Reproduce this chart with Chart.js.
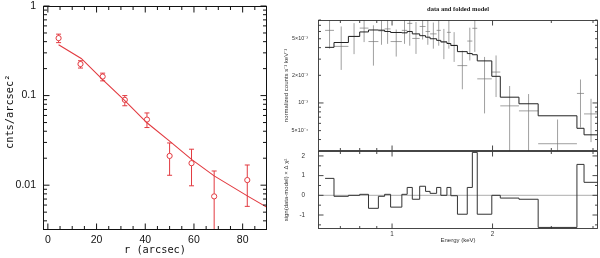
<!DOCTYPE html>
<html><head><meta charset="utf-8">
<script src="https://cdn.jsdelivr.net/npm/chart.js@4"></script>
<style>
html,body{margin:0;padding:0;background:#fff;width:600px;height:258px;overflow:hidden}
canvas{position:absolute}
#cL{left:0;top:0;width:300px;height:258px}
#cT{left:278px;top:0;width:322px;height:160px}
#cB{left:278px;top:145px;width:322px;height:113px}
</style></head><body>
<canvas id="cL" width="300" height="258"></canvas>
<canvas id="cT" width="322" height="160"></canvas>
<canvas id="cB" width="322" height="113"></canvas>
<script>
// ---------- Left panel: surface brightness profile ----------
const radius        = [4.4, 13.4, 22.5, 31.6, 40.7, 50.0, 59.0, 68.3, 81.9];
const brightness    = [0.438, 0.225, 0.163, 0.0896, 0.054, 0.0212, 0.0176, 0.0075, 0.0114];
const brightnessHi  = [0.485, 0.245, 0.178, 0.100, 0.064, 0.0296, 0.0252, 0.0144, 0.0168];
const brightnessLo  = [0.390, 0.203, 0.146, 0.077, 0.044, 0.0129, 0.00984, 0.001, 0.0058];
const modelRadius     = [4.4, 13.7, 22.5, 31.6, 40.7, 50.0, 59.0, 68.3, 81.9, 90];
const modelBrightness = [0.369, 0.260, 0.151, 0.088, 0.0497, 0.031, 0.0194, 0.0127, 0.0076, 0.00565];
const radiusTicks     = [0, 20, 40, 60, 80];
const radiusMinor     = [5,10,15,25,30,35,45,50,55,65,70,75,85];
const brightTicks     = [0.01, 0.1, 1];
const brightTickLabels= ['0.01', '0.1', '1'];
const brightMinor     = [0.004,0.005,0.006,0.007,0.008,0.009,0.02,0.03,0.04,0.05,0.06,0.07,0.08,0.09,0.2,0.3,0.4,0.5,0.6,0.7,0.8,0.9];

// ---------- Right panel: spectrum, data and folded model ----------
const energyEdges = [0.63,0.67,0.74,0.80,0.85,0.91,0.95,0.99,1.07,1.11,1.15,1.21,1.26,1.30,1.36,1.40,1.46,1.50,1.57,1.68,1.74,1.80,1.99,2.11,2.40,2.74,3.58,3.76,4.14];
const foldedModel = [4.03e-3,4.55e-3,5.3e-3,5.93e-3,6.23e-3,6.2e-3,6.0e-3,5.85e-3,5.8e-3,6.0e-3,5.65e-3,5.4e-3,5.2e-3,5.0e-3,4.8e-3,4.62e-3,4.44e-3,4.22e-3,3.62e-3,3.45e-3,3.35e-3,2.87e-3,1.95e-3,1.156e-3,9.8e-4,7.25e-4,5.3e-4,4.5e-4];
const countRate   = [6.17e-3,4.13e-3,5.3e-3,6.53e-3,4.66e-3,6.1e-3,6.4e-3,4.66e-3,6.17e-3,7.35e-3,5.04e-3,6.8e-3,6.0e-3,5.65e-3,6.17e-3,4.62e-3,5.87e-3,4.25e-3,2.55e-3,4.72e-3,6.5e-3,1.83e-3,2.17e-3,9.3e-4,8.2e-4,3.6e-4,1.27e-3,7.6e-4];
const countRateLo = [3.9e-3,2.29e-3,3.4e-3,4.6e-3,2.55e-3,4.3e-3,4.4e-3,3.2e-3,4.4e-3,4.2e-3,3.42e-3,4.9e-3,4.3e-3,3.9e-3,4.2e-3,3.0e-3,3.9e-3,2.8e-3,1.41e-3,2.9e-3,3.6e-3,7.7e-4,1.16e-3,2.0e-4,2.0e-4,2.0e-4,5.4e-4,3.75e-4];
const countRateHi = [1.0e-2,6.8e-3,7.4e-3,8.8e-3,7.0e-3,8.5e-3,8.6e-3,6.3e-3,8.2e-3,1.05e-2,7.6e-3,8.8e-3,7.9e-3,7.5e-3,8.3e-3,6.4e-3,8.0e-3,5.9e-3,3.7e-3,6.6e-3,8.5e-3,3.17e-3,3.29e-3,1.53e-3,1.25e-3,6.6e-4,1.8e-3,1.11e-3];
const residual    = [0.86,-0.05,0,0.05,-0.66,-0.05,0.05,-0.6,0.05,0.4,-0.2,0.46,0.2,0.1,0.4,0,0.4,-0.02,-0.96,0.4,2.18,-0.96,0,-0.14,-0.2,-1.63,1.57,0.66];
const energyTicks = [1, 2];
const energyMinor = [0.7,0.8,0.9,3,4];
const rateTicks   = [5e-4, 1e-3, 2e-3, 5e-3];
const rateTickLabels = ['5×10⁻⁴', '10⁻³', '2×10⁻³', '5×10⁻³'];
const rateMajorMarks = [1e-3];
const rateMinor   = [4e-4,5e-4,6e-4,7e-4,8e-4,9e-4,2e-3,3e-3,4e-3,5e-3,6e-3,7e-3,8e-3];
const residTicks  = [-1, 0, 1, 2];
const residMinor  = [-1.5,-0.5,0.5,1.5];

const RED = '#e23a40';

function frameAndTicks(chart, o) {
  const {ctx, chartArea: a, scales} = chart;
  const xs = scales.x, ys = scales.y;
  ctx.save();
  ctx.strokeStyle = o.color; ctx.lineWidth = o.width;
  ctx.beginPath();
  const L = Math.round(a.left)+0.5, R = Math.round(a.right)-0.5, T = Math.round(a.top)+0.5, B = Math.round(a.bottom)-0.5;
  const addX = (v, len) => { const p = xs.getPixelForValue(v); if (p < a.left || p > a.right) return;
    ctx.moveTo(p, B); ctx.lineTo(p, B-len); ctx.moveTo(p, T); ctx.lineTo(p, T+len); };
  const addY = (v, len) => { const p = ys.getPixelForValue(v); if (p < a.top || p > a.bottom) return;
    ctx.moveTo(L, p); ctx.lineTo(L+len, p); ctx.moveTo(R, p); ctx.lineTo(R-len, p); };
  o.xMajor.forEach(v => addX(v, o.maj)); o.xMinor.forEach(v => addX(v, o.min));
  o.yMajor.forEach(v => addY(v, o.maj)); o.yMinor.forEach(v => addY(v, o.min));
  ctx.stroke();
  ctx.strokeRect(L, T, R-L, B-T);
  ctx.restore();
}
const fitW = w => s => { s.width = w; s.paddingTop = 0; s.paddingBottom = 0; s.paddingLeft = 0; s.paddingRight = 0; };
const fitH = h => s => { s.height = h; s.paddingTop = 0; s.paddingBottom = 0; s.paddingLeft = 0; s.paddingRight = 0; };
const noGrid = {display:false, drawTicks:false, tickLength:0};

const common = {responsive:false, animation:false, events:[], plugins:{legend:{display:false}, tooltip:{enabled:false}}};

// ---------- Left chart ----------
const monoFont = {family:'"DejaVu Sans Mono", monospace', size:10.3};
const tickFont = {family:'"Liberation Sans", Arial, sans-serif', size:10.5};
new Chart(document.getElementById('cL'), {
  type:'line',
  data:{datasets:[
    {data: modelRadius.map((x,i)=>({x, y:modelBrightness[i]})), borderColor:RED, borderWidth:1.1, pointRadius:0, fill:false, tension:0},
    {data: radius.map((x,i)=>({x, y:brightness[i]})), showLine:false, pointRadius:2.6, pointStyle:'circle', borderColor:RED, backgroundColor:'rgba(0,0,0,0)', borderWidth:1}
  ]},
  options:{...common,
    layout:{padding:{left:0,right:33,top:6,bottom:0}},
    scales:{
      x:{type:'linear', min:-2, max:90, grid:noGrid, border:{display:false},
         afterFit:fitH(28), afterBuildTicks:s=>{s.ticks=radiusTicks.map(v=>({value:v}));},
         ticks:{padding:3.5, color:'#111', font:tickFont, maxRotation:0, autoSkip:false, callback:v=>String(v)},
         title:{display:true, text:'r (arcsec)', color:'#111', font:monoFont, padding:{top:0,bottom:1.8}}},
      y:{type:'logarithmic', min:0.00316, max:1, grid:noGrid, border:{display:false},
         afterFit:fitW(43), afterBuildTicks:s=>{s.ticks=brightTicks.map(v=>({value:v}));},
         ticks:{padding:7, color:'#111', font:tickFont, autoSkip:false, callback:(v)=>{const i=brightTicks.indexOf(v); return i>=0?brightTickLabels[i]:'';}},
         title:{display:true, text:'  cnts/arcsec²', color:'#111', font:monoFont, padding:{top:4,bottom:0}}}
    }
  },
  plugins:[{id:'errs',
    afterDatasetsDraw(chart){
      const {ctx, chartArea:a, scales:{x:xs,y:ys}} = chart;
      ctx.save(); ctx.beginPath(); ctx.rect(a.left,a.top,a.right-a.left,a.bottom-a.top); ctx.clip();
      ctx.strokeStyle=RED; ctx.lineWidth=1;
      radius.forEach((r,i)=>{
        const px=xs.getPixelForValue(r), py=ys.getPixelForValue(brightness[i]);
        const ph=ys.getPixelForValue(brightnessHi[i]), pl=ys.getPixelForValue(brightnessLo[i]);
        ctx.beginPath();
        if (py-ph>2.6){ctx.moveTo(px,py-2.6);ctx.lineTo(px,ph);}
        if (pl-py>2.6){ctx.moveTo(px,py+2.6);ctx.lineTo(px,pl);}
        ctx.moveTo(px-2.5,ph);ctx.lineTo(px+2.5,ph);
        ctx.moveTo(px-2.5,pl);ctx.lineTo(px+2.5,pl);
        ctx.stroke();
      });
      ctx.restore();
    },
    afterDraw(chart){ frameAndTicks(chart,{color:'#111',width:1,maj:6,min:3.5,xMajor:radiusTicks,xMinor:radiusMinor,yMajor:brightTicks,yMinor:brightMinor}); }
  }]
});

// ---------- Right top chart ----------
const smallFont = {family:'"Liberation Sans", Arial, sans-serif', size:6.3};
const rateFont  = {family:'"Liberation Sans", Arial, sans-serif', size:5.4};
const labelFont = {family:'"Liberation Sans", Arial, sans-serif', size:6};
const stepPts = (vals) => energyEdges.map((e,i)=>({x:e, y: vals[Math.min(i, vals.length-1)]}));
new Chart(document.getElementById('cT'), {
  type:'line',
  data:{datasets:[
    {data: stepPts(foldedModel), stepped:'before', borderColor:'#222', borderWidth:1, pointRadius:0, fill:false}
  ]},
  options:{...common,
    layout:{padding:{left:0,right:2,top:0,bottom:9}},
    plugins:{...common.plugins,
      title:{display:true, fullSize:false, text:'data and folded model', color:'#222',
             font:{family:'"Liberation Serif", serif', size:6.5, weight:'bold'}, padding:{top:5.1,bottom:7.1}}},
    scales:{
      x:{type:'logarithmic', min:0.628, max:4.14, display:false, afterFit:fitH(0)},
      y:{type:'logarithmic', min:3.37e-4, max:8e-3, grid:noGrid, border:{display:false},
         afterFit:fitW(40), afterBuildTicks:s=>{s.ticks=rateTicks.map(v=>({value:v}));},
         ticks:{padding:10, color:'#333', font:rateFont, autoSkip:false, callback:(v)=>{const i=rateTicks.indexOf(v); return i>=0?rateTickLabels[i]:'';}},
         title:{display:true, text:'normalized counts s⁻¹ keV⁻¹', color:'#333', font:labelFont, padding:{top:5,bottom:0}}}
    }
  },
  plugins:[{id:'crosses',
    beforeDatasetsDraw(chart){
      const {ctx, chartArea:a, scales:{x:xs,y:ys}} = chart;
      ctx.save(); ctx.beginPath(); ctx.rect(a.left,a.top,a.right-a.left,a.bottom-a.top); ctx.clip();
      ctx.strokeStyle='#777'; ctx.lineWidth=0.7; ctx.beginPath();
      countRate.forEach((v,i)=>{
        const x0=xs.getPixelForValue(energyEdges[i]), x1=xs.getPixelForValue(energyEdges[i+1]);
        const xc=xs.getPixelForValue(Math.sqrt(energyEdges[i]*energyEdges[i+1]));
        const y=ys.getPixelForValue(v);
        ctx.moveTo(x0,y); ctx.lineTo(x1,y);
        ctx.moveTo(xc, ys.getPixelForValue(countRateHi[i])); ctx.lineTo(xc, ys.getPixelForValue(countRateLo[i]));
      });
      ctx.stroke(); ctx.restore();
    },
    afterDraw(chart){ frameAndTicks(chart,{color:'#333',width:0.9,maj:5,min:2.5,xMajor:energyTicks,xMinor:energyMinor,yMajor:rateMajorMarks,yMinor:rateMinor}); }
  }]
});

// ---------- Right bottom chart ----------
new Chart(document.getElementById('cB'), {
  type:'line',
  data:{datasets:[
    {data: stepPts(residual), stepped:'before', borderColor:'#333', borderWidth:1, pointRadius:0, fill:false}
  ]},
  options:{...common,
    layout:{padding:{left:0,right:2,top:6,bottom:0}},
    scales:{
      x:{type:'logarithmic', min:0.628, max:4.14, grid:noGrid, border:{display:false},
         afterFit:fitH(29), afterBuildTicks:s=>{s.ticks=energyTicks.map(v=>({value:v}));},
         ticks:{padding:1, color:'#333', font:smallFont, maxRotation:0, autoSkip:false, callback:v=>String(v)},
         title:{display:true, text:'Energy (keV)', color:'#333', font:labelFont, padding:{top:0,bottom:14.4}}},
      y:{type:'linear', min:-1.71, max:2.25, grid:noGrid, border:{display:false},
         afterFit:fitW(40), afterBuildTicks:s=>{s.ticks=residTicks.map(v=>({value:v}));},
         ticks:{padding:13, color:'#333', font:smallFont, autoSkip:false, callback:v=>String(v)},
         title:{display:true, text:'sign(data-model) × Δ χ²', color:'#333', font:labelFont, padding:{top:5,bottom:0}}}
    }
  },
  plugins:[{id:'zero',
    beforeDatasetsDraw(chart){
      const {ctx, chartArea:a, scales:{y:ys}} = chart;
      const p = ys.getPixelForValue(0);
      ctx.save(); ctx.strokeStyle='#999'; ctx.lineWidth=0.8; ctx.beginPath(); ctx.moveTo(a.left,p); ctx.lineTo(a.right,p); ctx.stroke(); ctx.restore();
    },
    afterDraw(chart){ frameAndTicks(chart,{color:'#333',width:0.9,maj:5,min:2.5,xMajor:energyTicks,xMinor:energyMinor,yMajor:residTicks,yMinor:residMinor}); }
  }]
});
</script>
</body></html>
